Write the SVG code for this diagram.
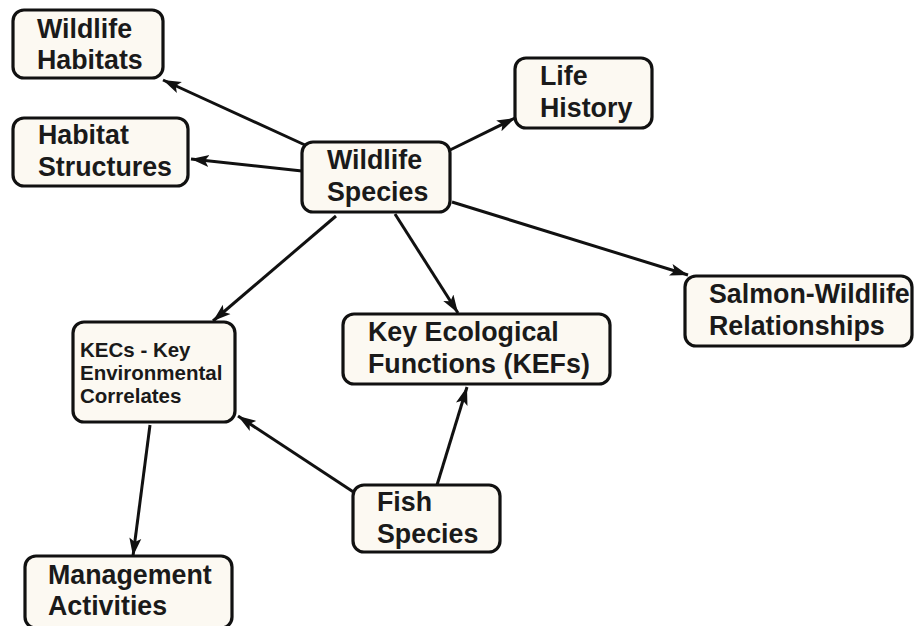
<svg xmlns="http://www.w3.org/2000/svg" width="914" height="626" viewBox="0 0 914 626">
<defs>
<style>
.box{fill:#fcf9f2;stroke:#111;stroke-width:3.2}
.t{font-family:"Liberation Sans",Arial,sans-serif;font-weight:bold;font-size:26.8px;fill:#1a1a1a}
.s{font-family:"Liberation Sans",Arial,sans-serif;font-weight:bold;font-size:20.5px;fill:#1a1a1a}
.c{stroke:#111;stroke-width:3;fill:none;marker-end:url(#ah)}
</style>
<marker id="ah" markerUnits="userSpaceOnUse" markerWidth="20" markerHeight="14" viewBox="0 0 20 14" refX="18" refY="7" orient="auto">
<path d="M0,1 L18,7 L0,13 L4,7 z" fill="#111"/>
</marker>
</defs>
<rect width="914" height="626" fill="#fff"/>
<g id="connectors">
<line class="c" x1="305" y1="145" x2="163" y2="80"/>
<line class="c" x1="302" y1="171" x2="191" y2="159"/>
<line class="c" x1="448" y1="151" x2="515" y2="118"/>
<line class="c" x1="452" y1="202" x2="688" y2="275"/>
<line class="c" x1="336" y1="216" x2="213" y2="321"/>
<line class="c" x1="395" y1="214" x2="458" y2="313"/>
<line class="c" x1="355" y1="493" x2="238" y2="416"/>
<line class="c" x1="437" y1="485" x2="467" y2="387"/>
<line class="c" x1="150" y1="425" x2="133" y2="556"/>
</g>
<g id="wildlife-habitats">
<rect class="box" x="13" y="10" width="150" height="68" rx="11"/>
<text class="t" x="37" y="38">Wildlife</text>
<text class="t" x="37" y="69">Habitats</text>
</g>
<g id="habitat-structures">
<rect class="box" x="13" y="118" width="175" height="68" rx="11"/>
<text class="t" x="38" y="144">Habitat</text>
<text class="t" x="38" y="176">Structures</text>
</g>
<g id="wildlife-species">
<rect class="box" x="302" y="142" width="148" height="70" rx="11"/>
<text class="t" x="327" y="169">Wildlife</text>
<text class="t" x="327" y="201">Species</text>
</g>
<g id="life-history">
<rect class="box" x="515" y="58" width="137" height="70" rx="11"/>
<text class="t" x="540" y="85">Life</text>
<text class="t" x="540" y="117">History</text>
</g>
<g id="salmon-wildlife">
<rect class="box" x="685" y="276" width="227" height="70" rx="11"/>
<text class="t" x="709" y="303">Salmon-Wildlife</text>
<text class="t" x="709" y="335">Relationships</text>
</g>
<g id="kecs">
<rect class="box" x="73" y="322" width="162" height="100" rx="11"/>
<text class="s" x="80" y="357">KECs - Key</text>
<text class="s" x="80" y="380">Environmental</text>
<text class="s" x="80" y="403">Correlates</text>
</g>
<g id="kefs">
<rect class="box" x="343" y="314" width="267" height="70" rx="11"/>
<text class="t" x="368" y="341">Key Ecological</text>
<text class="t" x="368" y="373">Functions (KEFs)</text>
</g>
<g id="fish-species">
<rect class="box" x="353" y="485" width="147" height="67" rx="11"/>
<text class="t" x="377" y="511">Fish</text>
<text class="t" x="377" y="543">Species</text>
</g>
<g id="management-activities">
<rect class="box" x="25" y="556" width="207" height="72" rx="11"/>
<text class="t" x="48" y="584">Management</text>
<text class="t" x="48" y="615">Activities</text>
</g>
</svg>
